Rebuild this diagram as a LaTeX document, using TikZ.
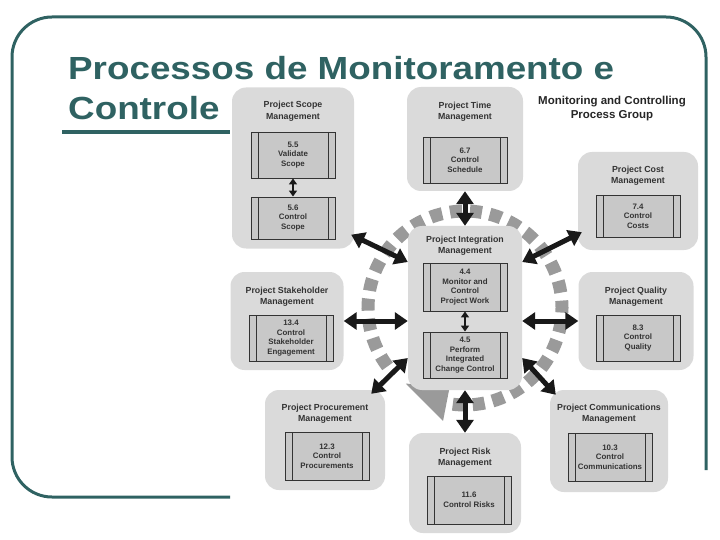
\documentclass[tikz,border=0pt]{standalone}
\usepackage{fontspec}
\usepackage{graphicx}
\setmainfont{Liberation Sans}
\usetikzlibrary{positioning,arrows.meta}

\definecolor{slideteal}{HTML}{2F6262}
\definecolor{areagray}{HTML}{DADADA}
\definecolor{procgray}{HTML}{C8C8C8}
\definecolor{ringgray}{HTML}{9A9A9A}
\definecolor{inkgray}{HTML}{333333}

\tikzset{
  area/.style={draw=none, fill=areagray, rounded corners=14pt, inner sep=0pt},
  areatitle/.style={font=\fontsize{8.8}{11.5}\selectfont\bfseries, text=inkgray,
    align=center, inner sep=0pt},
  proc/.style={draw=inkgray, line width=0.9pt, fill=procgray, inner sep=0pt,
    minimum width=84pt, minimum height=46pt, align=center, text=inkgray,
    font=\fontsize{7.9}{9.6}\selectfont\bfseries,
    path picture={
      \draw[inkgray, line width=0.9pt]
        ([xshift=7pt]path picture bounding box.north west) -- ([xshift=7pt]path picture bounding box.south west)
        ([xshift=-7pt]path picture bounding box.north east) -- ([xshift=-7pt]path picture bounding box.south east);
    }},
  link/.style={line width=5pt, black!90,
    {Triangle[width=17pt,length=13pt]}-{Triangle[width=17pt,length=13pt]}},
  smalllink/.style={line width=2.5pt, black!90,
    {Triangle[width=8pt,length=6pt]}-{Triangle[width=8pt,length=6pt]}},
}

\begin{document}
\begin{tikzpicture}[x=1pt,y=-1pt]
\useasboundingbox (0,0) rectangle (720,540);

% slide frame and title
\draw[slideteal, line width=3pt, rounded corners=40pt]
  (230,497) -- (12,497) -- (12,17) -- (706,17) -- (706,470);
\draw[slideteal, line width=4pt] (62,132) -- (230,132);
\node[anchor=base west, inner sep=0pt, text=slideteal,
  font=\fontsize{32}{36}\selectfont\bfseries] (title1) at (68,80)
  {\scalebox{1.15}[1]{Processos de Monitoramento e}};
\node[anchor=base west, inner sep=0pt, text=slideteal,
  font=\fontsize{32}{36}\selectfont\bfseries] (title2) at (68,120)
  {\scalebox{1.15}[1]{Controle}};

\node[font=\fontsize{11.5}{14}\selectfont\bfseries, align=center, text=black!85,
  inner sep=0pt] (groupname) at (612,109) {Monitoring and Controlling\\Process Group};

% ring around integration
\coordinate (hub) at (465,308);
\draw[ringgray, line width=13pt, dash pattern=on 12pt off 8pt]
  ([shift={(143:97)}]hub) arc[start angle=143, end angle=462, radius=97];
\fill[ringgray] ([shift={(101:79)}]hub) -- ([shift={(101:115)}]hub)
  -- ([shift={(128:96)}]hub) -- cycle;

% knowledge areas
\node[area, minimum width=122pt, minimum height=161pt] (scope) at (293,168) {};
\node[areatitle, below=14pt of scope.north] (scopetitle) {Project Scope\\Management};
\node[proc] (validate) at (293,155) {5.5\\Validate\\Scope};
\node[proc, minimum height=42pt] (ctlscope) at (293,218) {5.6\\Control\\Scope};

\node[area, minimum width=116pt, minimum height=104pt] (time) at (465,139) {};
\node[areatitle, below=15pt of time.north] (timetitle) {Project Time\\Management};
\node[proc] (schedule) at (465,160) {6.7\\Control\\Schedule};

\node[area, minimum width=120pt, minimum height=98pt] (cost) at (638,201) {};
\node[areatitle, below=14pt of cost.north] (costtitle) {Project Cost\\Management};
\node[proc, minimum height=42pt] (costs) at (638,216) {7.4\\Control\\Costs};

\node[area, minimum width=113pt, minimum height=98pt] (stake) at (287,321) {};
\node[areatitle, below=15pt of stake.north] (staketitle) {Project Stakeholder\\Management};
\node[proc] (engage) at (291,338) {13.4\\Control\\Stakeholder\\Engagement};

\node[area, minimum width=114pt, minimum height=164pt] (integ) at (hub) {};
\node[areatitle, below=10pt of integ.north] (integtitle) {Project Integration\\Management};
\node[proc, minimum height=48pt] (monitor) at (465,287) {4.4\\Monitor and\\Control\\Project Work};
\node[proc] (change) at (465,355) {4.5\\Perform\\Integrated\\Change Control};

\node[area, minimum width=115pt, minimum height=98pt] (quality) at (636,321) {};
\node[areatitle, below=15pt of quality.north] (qualitytitle) {Project Quality\\Management};
\node[proc] (ctlquality) at (638,338) {8.3\\Control\\Quality};

\node[area, minimum width=120pt, minimum height=100pt] (procure) at (325,440) {};
\node[areatitle, below=14pt of procure.north] (procuretitle) {Project Procurement\\Management};
\node[proc, minimum height=48pt] (procurements) at (327,456) {12.3\\Control\\Procurements};

\node[area, minimum width=112pt, minimum height=100pt] (risk) at (465,483) {};
\node[areatitle, below=15pt of risk.north] (risktitle) {Project Risk\\Management};
\node[proc, minimum height=48pt] (risks) at (469,500) {11.6\\Control Risks};

\node[area, minimum width=118pt, minimum height=102pt] (comm) at (609,441) {};
\node[areatitle, below=14pt of comm.north] (commtitle) {Project Communications\\Management};
\node[proc, minimum height=48pt] (comms) at (610,457) {10.3\\Control\\Communications};

% links
\draw[smalllink] (validate) -- (ctlscope);
\draw[smalllink] (monitor) -- (change);
\draw[link] ([yshift=46pt]integ.west) -- ([xshift=-3pt,yshift=14pt]scope.south east);
\draw[link] (integ.north) -- (time.south);
\draw[link] ([yshift=46pt]integ.east) -- ([xshift=4pt,yshift=18pt]cost.south west);
\draw[link] ([yshift=-13pt]integ.west) -- (stake.east);
\draw[link] ([yshift=-13pt]integ.east) -- (quality.west);
\draw[link] ([yshift=-50pt]integ.west) -- ([xshift=-14pt,yshift=-4pt]procure.north east);
\draw[link] (integ.south) -- (risk.north);
\draw[link] ([yshift=-50pt]integ.east) -- ([xshift=6pt,yshift=-5pt]comm.north west);

\end{tikzpicture}
\end{document}
